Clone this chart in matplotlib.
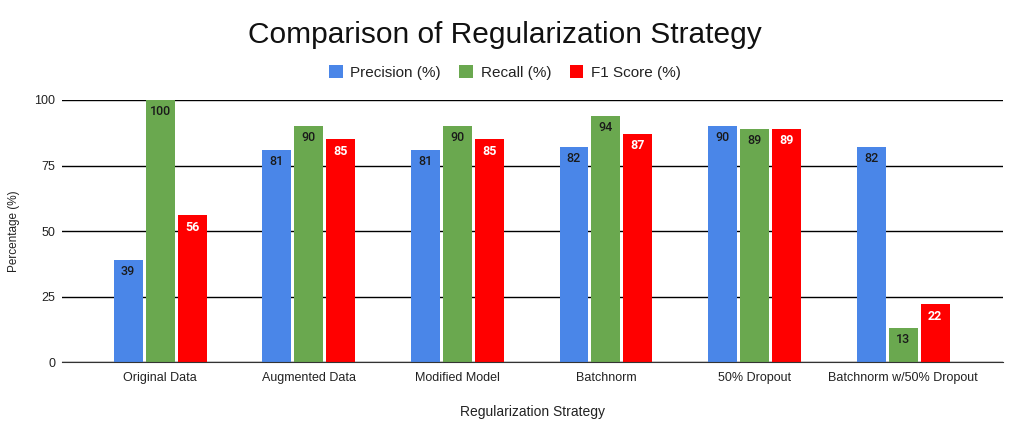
import matplotlib
matplotlib.use("Agg")
import matplotlib.pyplot as plt
import numpy as np

plt.rcParams["font.family"] = ["Liberation Sans", "DejaVu Sans"]

categories = ["Original Data", "Augmented Data", "Modified Model", "Batchnorm",
              "50% Dropout", "Batchnorm w/50% Dropout"]
precision = [39, 81, 81, 82, 90, 82]
recall = [100, 90, 90, 94, 89, 13]
f1 = [56, 85, 85, 87, 89, 22]

series = [
    ("Precision (%)", precision, "#4a86e8", "#1a1a1a", "medium"),
    ("Recall (%)", recall, "#6aa84f", "#1a1a1a", "medium"),
    ("F1 Score (%)", f1, "#ff0000", "white", "bold"),
]

fig = plt.figure(figsize=(10.16, 4.21), dpi=100)
ax = fig.add_axes([0.061, 0.14, 0.926, 0.6225])

x = np.arange(len(categories))
step = 0.215
width = 0.195
for i, (label, vals, color, tcolor, weight) in enumerate(series):
    pos = x + (i - 1) * step
    bars = ax.bar(pos, vals, width, color=color, label=label, zorder=3)
    for b, v in zip(bars, vals):
        ax.text(b.get_x() + b.get_width() / 2, v - 2.0, str(v), ha="center", va="top",
                fontsize=9, color=tcolor, fontweight=weight, family="Roboto", zorder=4)

ax.set_xlim(-0.66, 5.67)
ax.set_ylim(0, 100)
ax.set_yticks([0, 25, 50, 75, 100])
ax.yaxis.grid(True, color="black", lw=1, zorder=0)
ax.set_xticks(x)
ax.set_xticklabels(categories, fontsize=9, color="#222222")
ax.tick_params(axis="y", labelsize=9, labelcolor="#222222", length=0, pad=5)
ax.tick_params(axis="x", length=0, pad=7)
for s in ["top", "right", "left"]:
    ax.spines[s].set_visible(False)
ax.spines["bottom"].set_color("#333333")
ax.spines["bottom"].set_zorder(5)

ax.set_xlabel("Regularization Strategy", fontsize=10, color="#222222", labelpad=15)
ax.set_ylabel("Percentage (%)", fontsize=8.5, color="#222222", labelpad=10)

fig.suptitle("Comparison of Regularization Strategy", fontsize=21.5, color="#111111",
             x=0.497, y=0.95)
fig.legend(loc="center", bbox_to_anchor=(0.497, 0.828), ncol=3, frameon=False,
           fontsize=11, handlelength=0.9, handleheight=0.9, handletextpad=0.5,
           columnspacing=1.2, labelcolor="#222222")

fig.savefig("out.png", dpi=100)
